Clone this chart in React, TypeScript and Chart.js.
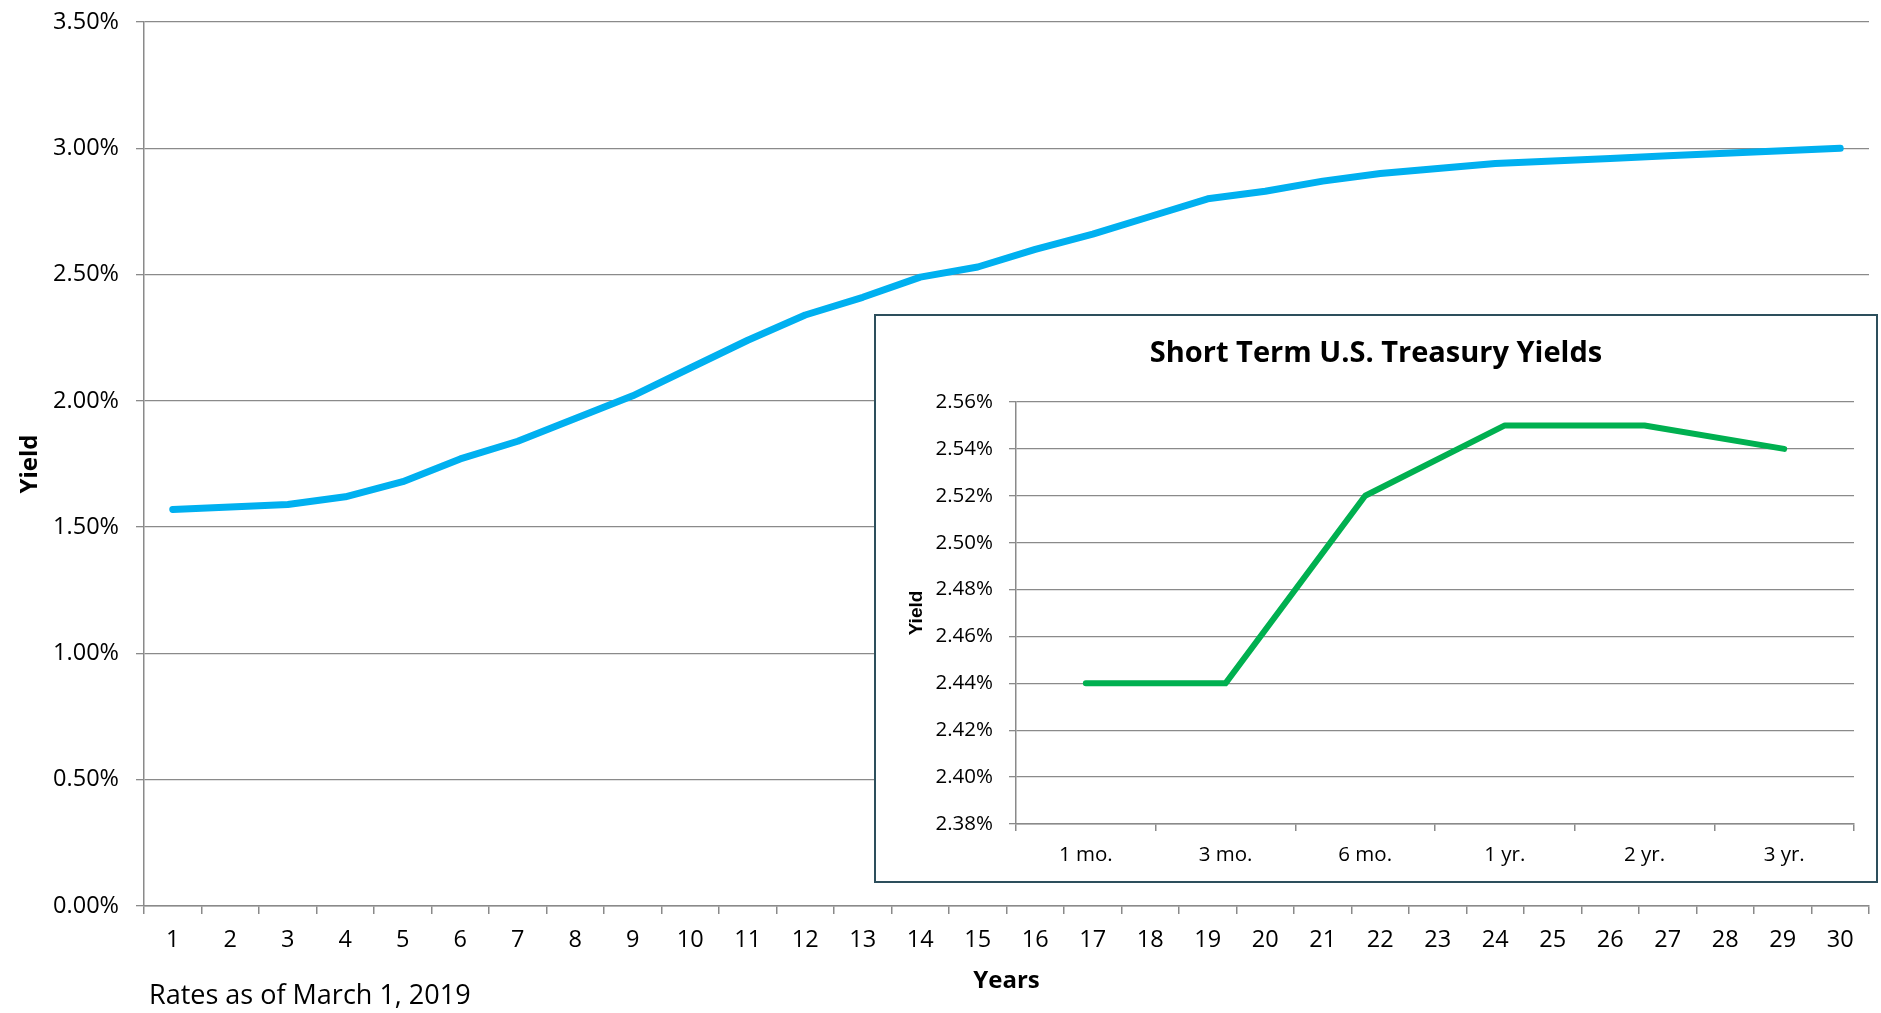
import React, { useEffect, useRef } from "react";
import { Chart, registerables } from "chart.js";

Chart.register(...registerables);

const years: string[] = [
  "1", "2", "3", "4", "5", "6", "7", "8", "9", "10",
  "11", "12", "13", "14", "15", "16", "17", "18", "19", "20",
  "21", "22", "23", "24", "25", "26", "27", "28", "29", "30",
];
const longYields: number[] = [
  1.57, 1.58, 1.59, 1.62, 1.68, 1.77, 1.84, 1.93, 2.02, 2.13,
  2.24, 2.34, 2.41, 2.49, 2.53, 2.6, 2.66, 2.73, 2.8, 2.83,
  2.87, 2.9, 2.92, 2.94, 2.95, 2.96, 2.97, 2.98, 2.99, 3.0,
];
const shortTerms: string[] = ["1 mo.", "3 mo.", "6 mo.", "1 yr.", "2 yr.", "3 yr."];
const shortYields: number[] = [2.44, 2.44, 2.52, 2.55, 2.55, 2.54];

const mainTitleX = "Years";
const mainTitleY = "Yield";
const insetTitle = "Short Term U.S. Treasury Yields";
const footnote = "Rates as of March 1, 2019";

const FONT = "'Open Sans', 'Noto Sans', sans-serif";
const GRID = "#8a8a8a";

const pct = (v: any) => Number(v).toFixed(2) + "%";

export default function App() {
  const mainRef = useRef<HTMLCanvasElement | null>(null);
  const insetRef = useRef<HTMLCanvasElement | null>(null);

  useEffect(() => {
    document.body.style.margin = "0";
    const footnotePlugin = {
      id: "footnote",
      afterDraw(chart: any) {
        const ctx = chart.ctx;
        ctx.save();
        ctx.font = `27px ${FONT}`;
        ctx.fillStyle = "#000";
        ctx.textAlign = "left";
        ctx.textBaseline = "middle";
        ctx.fillText(footnote, 149, 996);
        ctx.restore();
      },
    };

    const main = new Chart(mainRef.current as HTMLCanvasElement, {
      type: "line",
      data: {
        labels: years,
        datasets: [
          {
            data: longYields,
            borderColor: "#00B0F0",
            borderWidth: 7,
            pointRadius: 0,
            tension: 0,
            borderCapStyle: "round",
            borderJoinStyle: "round",
          },
        ],
      },
      options: {
        responsive: false,
        animation: false,
        layout: { padding: { left: 0, right: 12, top: 22, bottom: 0 } },
        plugins: { legend: { display: false }, tooltip: { enabled: false } },
        scales: {
          x: {
            type: "category",
            offset: true,
            grid: { display: true, offset: true, drawOnChartArea: false, tickLength: 8, color: GRID, lineWidth: 1.5 },
            border: { color: GRID, width: 1.5 },
            ticks: { color: "#000", font: { family: FONT, size: 23.5 }, padding: 12, maxRotation: 0, autoSkip: false },
            title: {
              display: true,
              text: mainTitleX,
              color: "#000",
              font: { family: FONT, size: 24, weight: "bold" },
              padding: { top: 0, bottom: 17 },
            },
            afterFit: (s: any) => {
              s.height = 107;
              s.paddingLeft = 0;
              s.paddingRight = 0;
            },
          },
          y: {
            min: 0,
            max: 3.5,
            ticks: { stepSize: 0.5, callback: pct, color: "#000", font: { family: FONT, size: 23.5 }, padding: 17 },
            grid: { color: GRID, lineWidth: 1.3, tickLength: 8 },
            border: { color: GRID, width: 1.5 },
            title: {
              display: true,
              text: mainTitleY,
              color: "#000",
              font: { family: FONT, size: 24, weight: "bold" },
              padding: { top: 16, bottom: 0 },
            },
            afterFit: (s: any) => {
              s.width = 144;
              s.paddingTop = 0;
              s.paddingBottom = 0;
            },
          },
        },
      } as any,
      plugins: [footnotePlugin],
    });

    const inset = new Chart(insetRef.current as HTMLCanvasElement, {
      type: "line",
      data: {
        labels: shortTerms,
        datasets: [
          {
            data: shortYields,
            borderColor: "#00B050",
            borderWidth: 6,
            pointRadius: 0,
            tension: 0,
            borderCapStyle: "round",
            borderJoinStyle: "round",
          },
        ],
      },
      options: {
        responsive: false,
        animation: false,
        layout: { padding: { left: 22, right: 22, top: 0, bottom: 0 } },
        plugins: {
          legend: { display: false },
          tooltip: { enabled: false },
          title: {
            display: true,
            text: insetTitle,
            color: "#000",
            font: { family: FONT, size: 29, weight: "bold", lineHeight: 1.2 },
            padding: { top: 20.6, bottom: 30.6 },
          },
        },
        scales: {
          x: {
            type: "category",
            offset: true,
            grid: { display: true, offset: true, drawOnChartArea: false, tickLength: 7, color: GRID, lineWidth: 1.5 },
            border: { color: GRID, width: 1.5 },
            ticks: { color: "#000", font: { family: FONT, size: 20.5 }, padding: 12, maxRotation: 0, autoSkip: false },
            afterFit: (s: any) => {
              s.height = 57;
              s.paddingLeft = 0;
              s.paddingRight = 0;
            },
          },
          y: {
            min: 2.38,
            max: 2.56,
            ticks: { stepSize: 0.02, callback: pct, color: "#000", font: { family: FONT, size: 20.5 }, padding: 16 },
            grid: { color: GRID, lineWidth: 1.3, tickLength: 7 },
            border: { color: GRID, width: 1.5 },
            title: {
              display: true,
              text: mainTitleY,
              color: "#000",
              font: { family: "'Liberation Sans', Arial, sans-serif", size: 19, weight: "bold" },
              padding: { top: 7, bottom: 0 },
            },
            afterFit: (s: any) => {
              s.width = 118;
              s.paddingTop = 0;
              s.paddingBottom = 0;
            },
          },
        },
      } as any,
    });

    return () => {
      main.destroy();
      inset.destroy();
    };
  }, []);

  return (
    <div style={{ position: "fixed", left: 0, top: 0, width: 1881, height: 1013, background: "#fff" }}>
      <canvas ref={mainRef} width={1881} height={1013} style={{ position: "absolute", left: 0, top: 0 }} />
      <div
        style={{
          position: "absolute",
          left: 874,
          top: 314,
          width: 1004,
          height: 569,
          boxSizing: "border-box",
          border: "2px solid #2d4f5c",
          background: "#fff",
        }}
      >
        <canvas ref={insetRef} width={1000} height={565} style={{ display: "block" }} />
      </div>
    </div>
  );
}
